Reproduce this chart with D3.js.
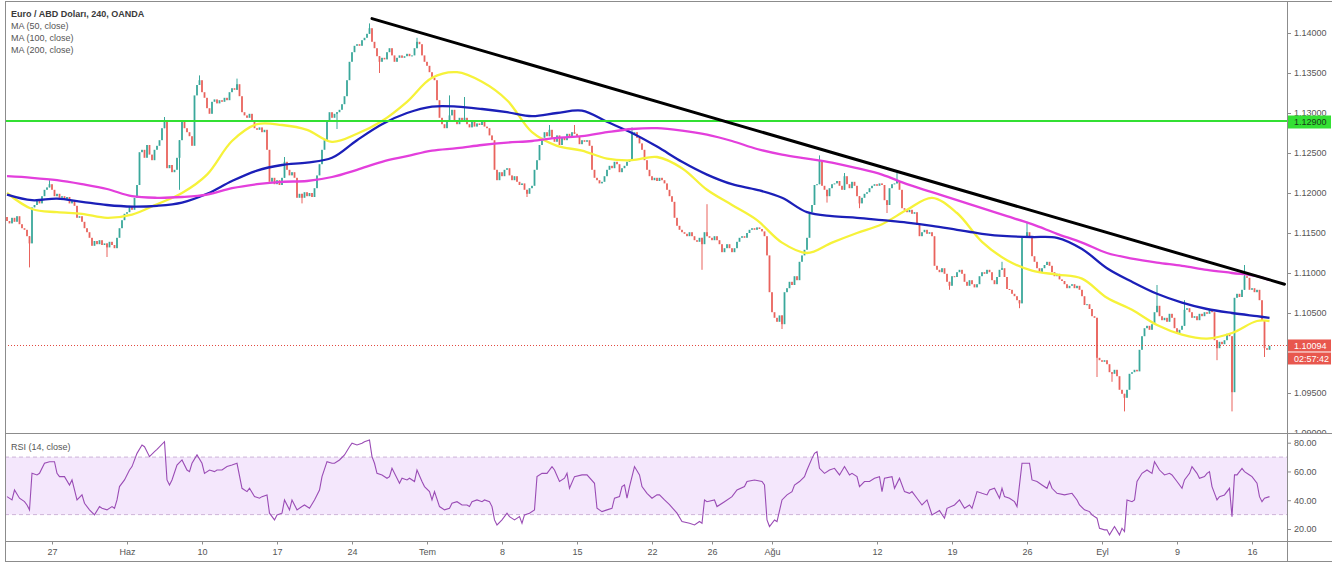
<!DOCTYPE html>
<html lang="tr">
<head>
<meta charset="UTF-8">
<title>Euro / ABD Doları, 240, OANDA</title>
<script src="https://cdn.jsdelivr.net/npm/d3@7"></script>
<style>
  body { margin: 0; background: #fff; }
  svg { display: block; font-family: "Liberation Sans", Arial, sans-serif; }
  .ax text { font-size: 9px; fill: #555; }
  .ax line { stroke: #8c8c8c; }
  .ax path { display: none; }
</style>
</head>
<body>
<svg id="chart" width="1332" height="572"></svg>
<script>
// 4h candle closes (open = previous close)
const firstOpen = 1.1170;
const closesMay = [
  1.1165,1.1162,1.1169,1.1164,1.1171,1.1161,1.1156,1.1154,1.1146,1.1137,
  1.1182,1.1185,1.1191,1.1187,1.1196,1.1204,1.1207,1.1211,1.1204,1.1196,
  1.1199,1.1194,1.1196,1.1192,1.1195,1.1187,1.1191,1.1184,1.1169,1.1171,
  1.1164,1.1156,1.1151,1.1144,1.1134,1.1140,1.1136,1.1141,1.1135,1.1137,
  1.1132,1.1139,1.1135,1.1131,1.1144,1.1156,1.1166,1.1174];
const closesJun = [
  1.1176,1.1184,1.1179,1.1194,1.1210,1.1251,1.1254,1.1244,1.1260,1.1248,
  1.1241,1.1254,1.1259,1.1266,1.1281,1.1289,1.1231,1.1235,1.1226,1.1229,
  1.1244,1.1266,1.1289,1.1281,1.1276,1.1271,1.1259,1.1322,1.1335,1.1341,
  1.1326,1.1319,1.1306,1.1299,1.1314,1.1317,1.1312,1.1316,1.1314,1.1319,
  1.1316,1.1326,1.1331,1.1329,1.1336,1.1321,1.1301,1.1297,1.1294,1.1299,
  1.1291,1.1281,1.1279,1.1282,1.1276,1.1279,1.1254,1.1214,1.1219,1.1211,
  1.1216,1.1210,1.1219,1.1239,1.1229,1.1222,1.1226,1.1219,1.1194,1.1199,
  1.1194,1.1201,1.1196,1.1200,1.1195,1.1206,1.1222,1.1236,1.1254,1.1266,
  1.1291,1.1301,1.1294,1.1299,1.1301,1.1304,1.1311,1.1321,1.1341,1.1364,
  1.1376,1.1384,1.1386,1.1384,1.1391,1.1394,1.1399,1.1406,1.1389,1.1381,
  1.1371,1.1364,1.1369,1.1367,1.1376,1.1381,1.1372,1.1364,1.1369,1.1372,
  1.1369,1.1371,1.1374,1.1371,1.1372,1.1381,1.1389,1.1386,1.1372,1.1364];
const closesJul = [
  1.1359,1.1351,1.1344,1.1341,1.1316,1.1294,1.1286,1.1281,1.1289,1.1297,
  1.1304,1.1291,1.1286,1.1294,1.1289,1.1294,1.1286,1.1282,1.1289,1.1283,
  1.1287,1.1285,1.1289,1.1283,1.1281,1.1272,1.1266,1.1229,1.1216,1.1226,
  1.1221,1.1229,1.1231,1.1222,1.1216,1.1221,1.1214,1.1210,1.1212,1.1204,
  1.1199,1.1206,1.1209,1.1229,1.1241,1.1260,1.1269,1.1276,1.1271,1.1279,
  1.1269,1.1264,1.1272,1.1260,1.1269,1.1266,1.1274,1.1271,1.1276,1.1274,
  1.1270,1.1261,1.1266,1.1264,1.1266,1.1259,1.1229,1.1219,1.1216,1.1212,
  1.1214,1.1221,1.1229,1.1234,1.1231,1.1239,1.1236,1.1226,1.1231,1.1234,
  1.1239,1.1241,1.1274,1.1276,1.1269,1.1262,1.1254,1.1241,1.1229,1.1221,
  1.1216,1.1219,1.1215,1.1219,1.1216,1.1212,1.1204,1.1196,1.1189,1.1169,
  1.1159,1.1154,1.1151,1.1149,1.1146,1.1151,1.1146,1.1141,1.1139,1.1144,
  1.1136,1.1151,1.1146,1.1144,1.1141,1.1146,1.1141,1.1136,1.1126,1.1131,
  1.1136,1.1131,1.1126,1.1131,1.1139,1.1144,1.1146,1.1144,1.1150,1.1154,
  1.1156,1.1154,1.1157,1.1155,1.1152,1.1146,1.1122,1.1076];
const closesAug = [
  1.1051,1.1044,1.1039,1.1047,1.1036,1.1076,1.1081,1.1089,1.1085,1.1096,
  1.1091,1.1114,1.1122,1.1129,1.1144,1.1176,1.1185,1.1210,1.1211,1.1241,
  1.1209,1.1204,1.1196,1.1206,1.1211,1.1212,1.1215,1.1209,1.1204,1.1221,
  1.1211,1.1206,1.1214,1.1209,1.1196,1.1187,1.1194,1.1199,1.1201,1.1206,
  1.1209,1.1211,1.1209,1.1212,1.1210,1.1191,1.1185,1.1206,1.1211,1.1212,
  1.1215,1.1204,1.1181,1.1179,1.1176,1.1179,1.1174,1.1176,1.1160,1.1146,
  1.1151,1.1154,1.1149,1.1151,1.1146,1.1109,1.1104,1.1101,1.1106,1.1099,
  1.1089,1.1084,1.1096,1.1095,1.1101,1.1104,1.1099,1.1089,1.1084,1.1091,
  1.1086,1.1082,1.1086,1.1096,1.1101,1.1099,1.1104,1.1101,1.1091,1.1086,
  1.1095,1.1104,1.1106,1.1095,1.1080,1.1079,1.1074,1.1071,1.1066,1.1062,
  1.1144,1.1146,1.1151,1.1144,1.1121,1.1114,1.1106,1.1101,1.1106,1.1110,
  1.1114,1.1109,1.1101,1.1096,1.1099,1.1092,1.1090,1.1086,1.1081,1.1084,
  1.1086,1.1081,1.1084,1.1079,1.1071,1.1060,1.1061,1.1055,1.1046,1.1044,
  1.0994,1.0991];
const closesSep = [
  1.0989,1.0991,1.0986,1.0976,1.0974,1.0979,1.0971,1.0954,1.0949,1.0944,
  1.0954,1.0974,1.0976,1.0979,1.0977,1.1004,1.1021,1.1031,1.1034,1.1029,
  1.1036,1.1051,1.1059,1.1046,1.1041,1.1044,1.1039,1.1049,1.1044,1.1031,
  1.1024,1.1029,1.1034,1.1054,1.1056,1.1051,1.1044,1.1046,1.1041,1.1049,
  1.1046,1.1051,1.1049,1.1054,1.1051,1.1016,1.1006,1.1014,1.1011,1.1016,
  1.1024,1.1021,1.0951,1.1069,1.1074,1.1070,1.1079,1.1096,1.1094,1.1079,
  1.1081,1.1076,1.1079,1.1066,1.1041,1.1006,1.1004,1.1009];

// visible long wicks: [candle index, price]
const highWicks = [[17,1.1216],[63,1.1295],[77,1.1347],[92,1.1343],[111,1.1245],[145,1.1412],
  [164,1.1394],[177,1.1322],[183,1.1320],[217,1.1285],[227,1.1285],[250,1.1282],[280,1.1186],
  [325,1.1247],[335,1.1225],[356,1.1225],[398,1.1114],[408,1.1164],[460,1.1085],[471,1.1066],[495,1.1110]];
const lowWicks = [[9,1.1107],[40,1.1120],[69,1.1204],[118,1.1187],[132,1.1280],[149,1.1350],
  [208,1.1195],[278,1.1104],[310,1.1030],[328,1.1188],[341,1.1181],[352,1.1175],[377,1.1079],
  [405,1.1056],[436,1.0970],[442,1.0964],[447,1.0927],[484,1.0991],[490,1.0927],[503,1.0995]];

// moving averages, read every 10 candles
const maIdx = [0,10,20,30,40,50,60,70,80,90,100,110,120,130,140,150,160,170,180,190,200,210,220,230,240,
  250,260,270,280,290,300,310,320,330,340,350,360,370,380,390,400,410,420,430,440,450,460,470,480,490,500,505];
const ma50 = [1.1200,1.1180,1.1176,1.1174,1.1169,1.1173,1.1186,1.1200,1.1223,1.1265,
  1.1286,1.1285,1.1279,1.1264,1.1274,1.1290,1.1314,1.1344,1.1351,1.1339,
  1.1316,1.1276,1.1259,1.1253,1.1243,1.1241,1.1245,1.1231,1.1204,1.1185,
  1.1166,1.1138,1.1125,1.1138,1.1150,1.1161,1.1179,1.1194,1.1175,1.1139,
  1.1116,1.1103,1.1098,1.1093,1.1069,1.1054,1.1035,1.1023,1.1018,1.1025,1.1040,1.1040];
const ma100 = [1.1198,1.1191,1.1193,1.1189,1.1185,1.1183,1.1184,1.1188,1.1199,1.1215,
  1.1228,1.1235,1.1238,1.1244,1.1266,1.1286,1.1300,1.1308,1.1308,1.1305,
  1.1301,1.1296,1.1300,1.1303,1.1289,1.1275,1.1258,1.1239,1.1223,1.1211,
  1.1204,1.1194,1.1176,1.1171,1.1169,1.1166,1.1163,1.1159,1.1154,1.1149,
  1.1146,1.1145,1.1144,1.1130,1.1106,1.1089,1.1074,1.1063,1.1055,1.1050,1.1046,1.1044];
const ma200 = [1.1221,1.1219,1.1216,1.1211,1.1205,1.1196,1.1194,1.1195,1.1198,1.1206,
  1.1211,1.1214,1.1215,1.1220,1.1229,1.1239,1.1246,1.1253,1.1256,1.1260,
  1.1263,1.1265,1.1269,1.1271,1.1276,1.1280,1.1281,1.1278,1.1273,1.1265,
  1.1255,1.1248,1.1243,1.1238,1.1231,1.1223,1.1211,1.1201,1.1191,1.1181,
  1.1171,1.1161,1.1149,1.1138,1.1125,1.1118,1.1113,1.1109,1.1104,1.1100,1.1096,1.1091];

// RSI(14) vertices: [candle index, value]
const rsiPoints = [[0,42.5],[2,40.2],[3,47.1],[5,41.4],[7,39],[8,36.7],[9,33.3],[10,58.7],[12,57.6],[13,58.7],
  [15,65.7],[17,66.8],[19,66.8],[20,58.7],[21,56.4],[23,56.4],[25,50.6],[26,54.1],[28,40.2],[30,43.7],
  [31,37.9],[33,33.3],[35,29.8],[37,35.6],[38,34.4],[40,33.3],[42,35.6],[43,34.4],[44,40.2],[45,49.5],
  [47,54.1],[49,61],[50,63.4],[52,72.6],[54,78.4],[55,77.2],[57,70.3],[59,73.8],[60,75.4],[63,80.7],
  [64,54.1],[65,50.6],[66,54.1],[68,64.5],[70,68],[72,61],[73,59.9],[74,65.7],[76,71.5],[78,65.7],
  [79,58.7],[81,61],[83,59.9],[84,61],[86,61],[88,63.4],[90,64.5],[92,65.7],[94,48.3],[96,46],
  [97,48.3],[99,42.5],[101,41.4],[102,42.5],[104,43.7],[105,31],[107,26.3],[108,29.8],[110,31],[111,40.2],
  [113,33.3],[114,40.2],[116,33.3],[118,35.6],[119,36.7],[121,34.4],[123,40.2],[125,47.1],[126,56.4],[128,66.8],
  [130,65.7],[131,65.7],[133,68],[135,71.5],[137,77.2],[138,79.6],[140,78.4],[142,79.6],[143,80.7],[145,81.9],
  [146,70.3],[147,65.7],[148,58.7],[150,57.6],[152,55.3],[153,56.4],[154,62.2],[156,55.3],[157,51.8],[158,55.3],
  [160,54.1],[161,55.3],[163,53],[164,61],[166,53],[167,49.5],[169,46],[170,40.2],[171,46],[173,35.6],
  [175,33.3],[177,34.4],[178,37.9],[180,39],[182,36.7],[184,36.7],[185,35.6],[186,39],[188,40.2],[190,39],
  [191,40.2],[193,39],[194,35.6],[195,26.3],[196,22.8],[198,26.3],[200,31],[201,28.6],[203,26.3],[205,28.6],
  [206,24],[207,29.8],[209,31],[211,33.3],[212,56.4],[214,58.7],[216,58.7],[218,63.4],[219,61],[221,53],
  [223,55.3],[224,58.7],[225,48.3],[227,56.4],[230,57.6],[232,57.6],[235,51.8],[236,34.4],[238,32.1],[240,33.3],
  [242,34.4],[243,41.4],[245,42.5],[246,49.5],[247,50.6],[248,41.4],[249,49.5],[251,63.4],[253,57.6],[254,49.5],
  [256,44.8],[258,41.4],[260,43.7],[261,43.7],[263,40.2],[265,37],[268,31],[270,25.2],[273,24],[275,22.8],
  [277,25.2],[278,24],[279,40.2],[280,39],[283,40.2],[284,35.6],[287,39],[290,42.5],[292,47.1],[295,49.5],
  [296,53],[299,54.1],[302,53],[303,50.6],[304,26.3],[305,21.7],[307,26.3],[308,25.2],[310,40.2],[312,43.7],
  [314,46],[315,50.6],[317,53],[319,56.4],[320,61],[322,69.1],[323,72.6],[324,73.8],[325,62.2],[327,58.7],
  [329,61],[331,62.2],[333,57.6],[335,63.4],[337,57.6],[338,58.7],[340,56.4],[341,49.5],[343,53],[345,53],
  [347,55.3],[349,56.4],[350,46],[351,55.3],[354,56.4],[355,48.3],[357,55.3],[359,46],[361,44.8],[362,46],
  [364,41.4],[366,36.7],[368,40.2],[370,29.8],[373,32.8],[375,27.5],[376,34.4],[379,36.7],[381,40.2],[383,34.4],
  [385,36.7],[386,34.4],[388,46],[390,44.8],[392,43.7],[393,47.1],[395,48.3],[397,41.4],[398,48.3],[399,42.5],
  [401,41.4],[403,39],[404,35.6],[406,65.7],[409,65.7],[410,54.1],[412,53],[414,50.6],[416,48.3],[417,53],
  [418,48.3],[420,44.8],[423,43.7],[426,44.8],[428,40.2],[429,36.7],[431,33.3],[433,32.1],[434,29.8],[436,27.5],
  [437,20.5],[439,19.4],[440,19.4],[441,15.9],[443,21.7],[445,15.9],[446,20.5],[447,18.2],[448,40.2],[450,39],
  [451,40.2],[452,53],[454,58.7],[456,61],[458,58.7],[459,66.8],[461,61],[463,57.6],[465,58.7],[466,57.6],
  [468,53],[470,48.3],[471,54.1],[473,58.7],[474,63.4],[476,58.7],[477,55.3],[479,56.4],[480,58.7],[481,59.9],
  [482,49.5],[484,40.2],[485,42.5],[487,43.7],[489,48.3],[490,28.6],[491,57.6],[492,57.6],[494,62.2],[495,59.9],
  [497,57.6],[498,56.4],[500,51.8],[501,42.5],[502,39],[503,41.4],[505,42.5]];

// 1.10000 sits under the last-price tag in the original, so it is left out
const priceTicks = [1.14, 1.135, 1.13, 1.125, 1.12, 1.115, 1.11, 1.105, 1.095, 1.09];
const rsiTicks = [80, 60, 40, 20];
const timeLabels = ['27','Haz','10','17','24','Tem','8','15','22','26','Ağu','12','19','26','Eyl','9','16'];
const timeIdx = [18,48,78,108,138,168,198,228,258,282,306,348,378,408,438,468,498];
const levelLine = 1.1290;
const lastPrice = 1.10094;
const countdown = '02:57:42';
const trendFrom = [146, 1.1418], trendTo = [511, 1.1086];

// layout
const L = 5, R = 1287, T = 1, MB = 433.5, RB = 541.5, AB = 561.5, W = 1332;
const up = '#3aa89b', down = '#e9635d';

const svg = d3.select('#chart');
const x = d3.scaleLinear().domain([0, 505]).range([7, 1269.5]);
const y = d3.scaleLinear().domain([1.09, 1.14]).range([433, 33]);
const yr = d3.scaleLinear().domain([20, 80]).range([529, 442.7]);

const defs = svg.append('defs');
defs.append('clipPath').attr('id', 'mainClip')
  .append('rect').attr('x', L).attr('y', T).attr('width', R - L).attr('height', MB - T);
defs.append('clipPath').attr('id', 'rsiClip')
  .append('rect').attr('x', L).attr('y', MB).attr('width', R - L).attr('height', RB - MB);
defs.append('clipPath').attr('id', 'axisClip')
  .append('rect').attr('x', R).attr('y', T).attr('width', W - R).attr('height', MB - T - 0.5);

// candles
const closes = [].concat(closesMay, closesJun, closesJul, closesAug, closesSep);
const candles = closes.map((c, i) => ({ i, o: i ? closes[i - 1] : firstOpen, c }));
highWicks.forEach(([i, h]) => { candles[i].h = h; });
lowWicks.forEach(([i, l]) => { candles[i].l = l; });

const main = svg.append('g').attr('clip-path', 'url(#mainClip)');

main.append('g').selectAll('line').data(candles.filter(d => d.h || d.l)).join('line')
  .attr('x1', d => x(d.i)).attr('x2', d => x(d.i))
  .attr('y1', d => y(d.h || Math.max(d.o, d.c)))
  .attr('y2', d => y(d.l || Math.min(d.o, d.c)))
  .attr('stroke', d => d.c >= d.o ? up : down).attr('stroke-width', 1);

main.append('g').selectAll('rect').data(candles).join('rect')
  .attr('x', d => x(d.i) - 0.9).attr('width', 1.8)
  .attr('y', d => y(Math.max(d.o, d.c)))
  .attr('height', d => Math.max(1, Math.abs(y(d.o) - y(d.c))))
  .attr('fill', d => d.c >= d.o ? up : down);

// moving averages
const maLine = d3.line().x((d, k) => x(maIdx[k])).y(d => y(d)).curve(d3.curveCatmullRom);
[[ma50, '#f6f23a'], [ma100, '#1b1fb8'], [ma200, '#e33fdc']].forEach(([data, col]) => {
  main.append('path').attr('d', maLine(data))
    .attr('fill', 'none').attr('stroke', col).attr('stroke-width', 2.3);
});

// last price dotted line, snapped to a pixel row so it stays red
const lastY = Math.round(y(lastPrice)) + 0.5;
main.append('line').attr('x1', L).attr('x2', R).attr('y1', lastY).attr('y2', lastY)
  .attr('stroke', '#e24a40').attr('stroke-dasharray', '1,2');

// horizontal level and trend line
main.append('line').attr('x1', L).attr('x2', R).attr('y1', y(levelLine)).attr('y2', y(levelLine))
  .attr('stroke', '#33e033').attr('stroke-width', 2);
main.append('line')
  .attr('x1', x(trendFrom[0])).attr('y1', y(trendFrom[1]))
  .attr('x2', x(trendTo[0])).attr('y2', y(trendTo[1]))
  .attr('stroke', '#000').attr('stroke-width', 3).attr('stroke-linecap', 'round');

// RSI pane
const rsi = svg.append('g').attr('clip-path', 'url(#rsiClip)');
rsi.append('rect').attr('x', L).attr('width', R - L)
  .attr('y', yr(70)).attr('height', yr(30) - yr(70)).attr('fill', '#f4e7fc');
[70, 30].forEach(v => {
  rsi.append('line').attr('x1', L).attr('x2', R).attr('y1', yr(v)).attr('y2', yr(v))
    .attr('stroke', '#cdb3d8').attr('stroke-dasharray', '4,3');
});
rsi.append('path').datum(rsiPoints)
  .attr('d', d3.line().x(d => x(d[0])).y(d => yr(d[1])))
  .attr('fill', 'none').attr('stroke', '#9a4cb5').attr('stroke-width', 1.1);

// axes (clip on an outer group so the clip box stays in page coordinates)
svg.append('g').attr('clip-path', 'url(#axisClip)')
  .append('g').attr('class', 'ax').attr('transform', `translate(${R},0)`)
  .call(d3.axisRight(y).tickValues(priceTicks).tickFormat(d3.format('.5f')).tickSize(4).tickPadding(3));
svg.append('g').attr('class', 'ax').attr('transform', `translate(${R},0)`)
  .call(d3.axisRight(yr).tickValues(rsiTicks).tickFormat(d3.format('.2f')).tickSize(4).tickPadding(3));
svg.append('g').attr('class', 'ax').attr('transform', `translate(0,${RB})`)
  .call(d3.axisBottom(x).tickValues(timeIdx).tickFormat((d, k) => timeLabels[k]).tickSize(3).tickPadding(4));

// price labels on the axis
function axisTag(cy, h, fill, text, color) {
  svg.append('rect').attr('x', R + 1).attr('y', cy - h / 2).attr('width', W - R - 2).attr('height', h).attr('fill', fill);
  svg.append('text').attr('x', R + 7).attr('y', cy).attr('dy', '0.35em')
    .attr('font-size', 9).attr('fill', color).text(text);
}
axisTag(y(levelLine) + 1, 13, '#33e033', d3.format('.5f')(levelLine), '#1a3a1a');
axisTag(y(lastPrice), 12, '#e8574e', d3.format('.5f')(lastPrice), '#fff');
axisTag(y(lastPrice) + 13, 12, '#e8574e', countdown, '#fff');

// frame
const frame = svg.append('g').attr('stroke', '#8c8c8c').attr('stroke-width', 1);
frame.append('line').attr('x1', L).attr('x2', W).attr('y1', T + 0.5).attr('y2', T + 0.5);
frame.append('line').attr('x1', L + 0.5).attr('x2', L + 0.5).attr('y1', T).attr('y2', AB);
frame.append('line').attr('x1', R + 0.5).attr('x2', R + 0.5).attr('y1', T).attr('y2', AB);
[MB, RB, AB].forEach(v => frame.append('line').attr('x1', L).attr('x2', W).attr('y1', v).attr('y2', v));

// legends
const legend = svg.append('g').attr('font-size', 9).attr('fill', '#555');
legend.append('text').attr('x', 11).attr('y', 17).attr('font-weight', 'bold').attr('fill', '#3a3a3a')
  .text('Euro / ABD Doları, 240, OANDA');
['MA (50, close)', 'MA (100, close)', 'MA (200, close)'].forEach((t, k) => {
  legend.append('text').attr('x', 11).attr('y', 29 + k * 12).text(t);
});
legend.append('text').attr('x', 11).attr('y', 450).text('RSI (14, close)');
</script>
</body>
</html>
